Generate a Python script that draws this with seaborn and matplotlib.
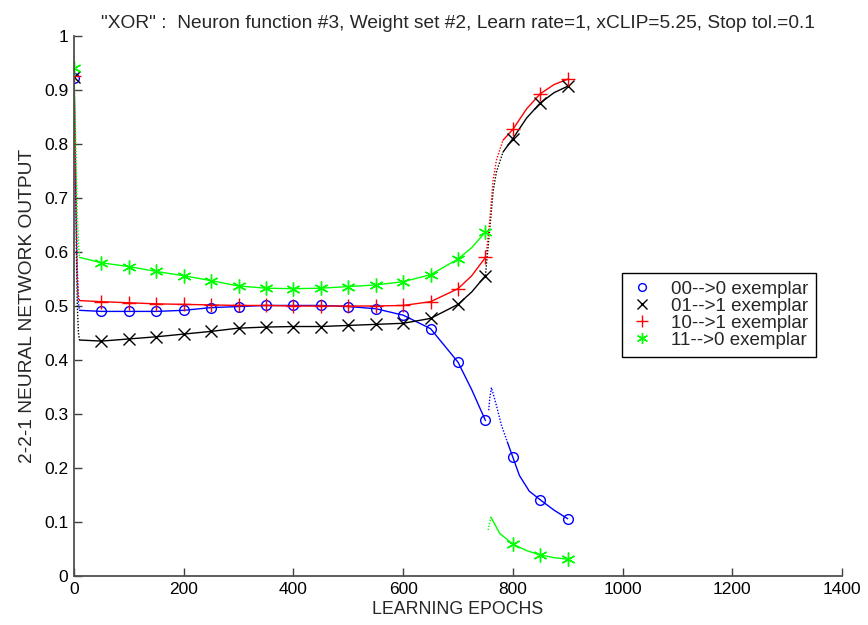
import matplotlib
matplotlib.use("Agg")
import matplotlib.pyplot as plt
import seaborn as sns

# marker epochs (one marker every 50 epochs)
marker_epochs = [0, 50, 100, 150, 200, 250, 300, 350, 400, 450, 500,
                 550, 600, 650, 700, 750, 800, 850, 900]

out_00 = [0.922, 0.490, 0.490, 0.490, 0.492, 0.497, 0.499, 0.501, 0.501, 0.501,
          0.499, 0.495, 0.483, 0.458, 0.396, 0.288, 0.220, 0.141, 0.106]
out_01 = [0.925, 0.435, 0.439, 0.443, 0.448, 0.453, 0.459, 0.461, 0.462, 0.462,
          0.464, 0.466, 0.468, 0.477, 0.503, 0.556, 0.810, 0.876, 0.907]
out_10 = [0.926, 0.508, 0.506, 0.504, 0.503, 0.502, 0.501, 0.501, 0.500, 0.500,
          0.500, 0.500, 0.501, 0.508, 0.532, 0.590, 0.827, 0.893, 0.920]
out_11 = [0.940, 0.580, 0.573, 0.564, 0.556, 0.547, 0.537, 0.533, 0.532, 0.533,
          0.536, 0.539, 0.545, 0.558, 0.587, 0.637, 0.059, 0.039, 0.031]

# fast initial drop (sparse, dotted)
drop_epochs = [0, 2, 4, 6, 8, 10]
drop_00 = [0.922, 0.80, 0.66, 0.55, 0.505, 0.492]
drop_01 = [0.925, 0.78, 0.62, 0.50, 0.45, 0.437]
drop_10 = [0.926, 0.82, 0.68, 0.57, 0.52, 0.510]
drop_11 = [0.940, 0.86, 0.76, 0.67, 0.62, 0.590]

# steady phase, epoch 10 .. 750
mid_epochs = [10, 50, 100, 150, 200, 250, 300, 350, 400, 450, 500,
              550, 600, 650, 700, 725, 750]
mid_00 = [0.492, 0.490, 0.490, 0.490, 0.492, 0.497, 0.499, 0.501, 0.501, 0.501,
          0.499, 0.495, 0.483, 0.458, 0.396, 0.345, 0.288]
mid_01 = [0.437, 0.435, 0.439, 0.443, 0.448, 0.453, 0.459, 0.461, 0.462, 0.462,
          0.464, 0.466, 0.468, 0.477, 0.503, 0.526, 0.556]
mid_10 = [0.510, 0.508, 0.506, 0.504, 0.503, 0.502, 0.501, 0.501, 0.500, 0.500,
          0.500, 0.500, 0.501, 0.508, 0.532, 0.556, 0.590]
mid_11 = [0.590, 0.580, 0.573, 0.564, 0.556, 0.547, 0.537, 0.533, 0.532, 0.533,
          0.536, 0.539, 0.545, 0.558, 0.587, 0.608, 0.637]

# sparse jump after epoch 750 (dotted)
jump_ep_00 = [756, 758, 761, 770, 779, 790]
jump_00 = [0.307, 0.330, 0.349, 0.316, 0.280, 0.248]
jump_ep_01 = [750, 753, 756, 759, 764, 770, 782]
jump_01 = [0.556, 0.590, 0.622, 0.655, 0.712, 0.748, 0.785]
jump_ep_10 = [750, 753, 756, 759, 764, 770, 782]
jump_10 = [0.590, 0.610, 0.640, 0.672, 0.733, 0.770, 0.807]
jump_ep_11 = [755, 758, 760]
jump_11 = [0.085, 0.100, 0.109]

# final phase (solid)
end_ep_00 = [790, 800, 812, 830, 850, 875, 900]
end_00 = [0.248, 0.220, 0.186, 0.157, 0.141, 0.122, 0.106]
end_ep_01 = [782, 800, 825, 850, 875, 900]
end_01 = [0.785, 0.810, 0.848, 0.876, 0.895, 0.907]
end_ep_10 = [782, 800, 825, 850, 875, 900]
end_10 = [0.807, 0.827, 0.865, 0.893, 0.910, 0.920]
end_ep_11 = [760, 776, 800, 825, 850, 875, 900]
end_11 = [0.109, 0.079, 0.059, 0.047, 0.039, 0.034, 0.031]

labels = ["00-->0 exemplar", "01-->1 exemplar", "10-->1 exemplar", "11-->0 exemplar"]
colors = ["#0000ff", "#000000", "#ff0000", "#00ff00"]

sns.set_style("ticks")
plt.rcParams["font.family"] = ["Liberation Sans", "DejaVu Sans"]
plt.rcParams["font.size"] = 12

fig = plt.figure(figsize=(8.68, 6.25), dpi=100)
ax = fig.add_axes([0.0853, 0.0784, 0.8847, 0.864])

dots = (0, (1, 1.2))
series = [
    (drop_00, mid_00, jump_ep_00, jump_00, end_ep_00, end_00, out_00),
    (drop_01, mid_01, jump_ep_01, jump_01, end_ep_01, end_01, out_01),
    (drop_10, mid_10, jump_ep_10, jump_10, end_ep_10, end_10, out_10),
    (drop_11, mid_11, jump_ep_11, jump_11, end_ep_11, end_11, out_11),
]
for (drop, mid, jx, jy, ex, ey, _), c in zip(series, colors):
    sns.lineplot(x=drop_epochs, y=drop, color=c, lw=1.0, ls=dots, sort=False, ax=ax)
    sns.lineplot(x=mid_epochs, y=mid, color=c, lw=1.0, sort=False, ax=ax)
    sns.lineplot(x=jx, y=jy, color=c, lw=1.0, ls=dots, sort=False, ax=ax)
    sns.lineplot(x=ex, y=ey, color=c, lw=1.0, sort=False, ax=ax)

marker_styles = [
    dict(marker="o", markersize=7, markerfacecolor="none", markeredgewidth=1.0),
    dict(marker="x", markersize=9, markeredgewidth=1.0),
    dict(marker="+", markersize=10, markeredgewidth=1.0),
    dict(marker=(6, 2, 0), markersize=10, markeredgewidth=1.0),
]
handles = []
for (*_, outs), c, lab, st in zip(series, colors, labels, marker_styles):
    h, = ax.plot(marker_epochs, outs, ls="none", color=c, markeredgecolor=c,
                 label=lab, **st)
    handles.append(h)

ax.set_xlim(0, 1400)
ax.set_ylim(0, 1)
ax.set_xticks([0, 200, 400, 600, 800, 1000, 1200, 1400])
ax.set_yticks([0, 0.1, 0.2, 0.3, 0.4, 0.5, 0.6, 0.7, 0.8, 0.9, 1])
ax.set_yticklabels(["0", "0.1", "0.2", "0.3", "0.4", "0.5", "0.6", "0.7", "0.8", "0.9", "1"])
ax.tick_params(direction="in", length=6, width=1, colors="#404040", labelcolor="black",
               labelsize=12.5, pad=4)
for s in ["top", "right"]:
    ax.spines[s].set_visible(False)
for s in ["left", "bottom"]:
    ax.spines[s].set_color("#505050")
    ax.spines[s].set_linewidth(1.3)

ax.set_title('"XOR" :  Neuron function #3, Weight set #2, Learn rate=1, xCLIP=5.25, Stop tol.=0.1',
             fontsize=13.8, pad=6)
ax.set_xlabel("LEARNING EPOCHS", fontsize=12.8, labelpad=3)
ax.set_ylabel("2-2-1 NEURAL NETWORK OUTPUT", fontsize=13.8, labelpad=6)

leg = ax.legend(handles=handles, loc="upper left", bbox_to_anchor=(0.7135, 0.561),
                borderaxespad=0, fancybox=False, framealpha=1, edgecolor="black",
                fontsize=13.5, handlelength=1.3, handletextpad=0.9, labelspacing=0.0,
                borderpad=0.4, markerscale=0.8)
leg.get_frame().set_linewidth(1.0)

fig.savefig("out.png", dpi=100)
